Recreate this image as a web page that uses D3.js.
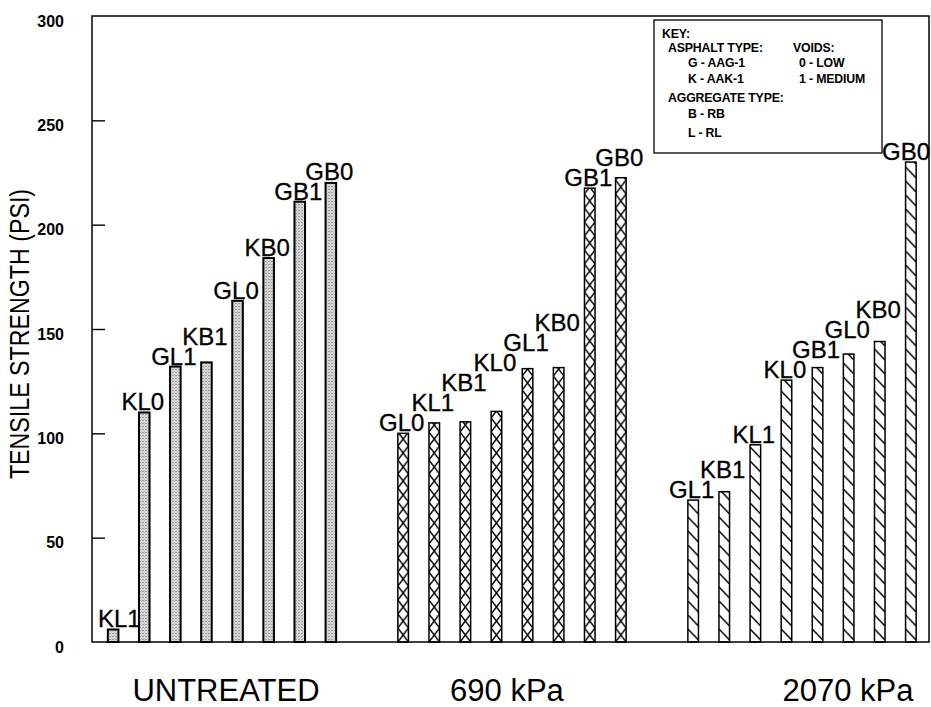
<!DOCTYPE html>
<html>
<head>
<meta charset="utf-8">
<script src="https://cdn.jsdelivr.net/npm/d3@7"></script>
<style>
  html, body { margin: 0; padding: 0; background: #fff; }
  svg { display: block; }
  text { font-family: "Liberation Sans", Arial, Helvetica, sans-serif; fill: #000; }
</style>
</head>
<body>
<svg id="chart" width="931" height="707"></svg>
<script>
// Treatment groups along the x axis
const groups = ["UNTREATED", "690 kPa", "2070 kPa"];

// Mix codes and tensile strengths (psi), sorted within each group
const untreatedMixes = ["KL1", "KL0", "GL1", "KB1", "GL0", "KB0", "GB1", "GB0"];
const untreatedValues = [6, 110, 132, 134, 163.5, 184, 211, 220];

const kpa690Mixes = ["GL0", "KL1", "KB1", "KL0", "GL1", "KB0", "GB1", "GB0"];
const kpa690Values = [100, 105, 105.5, 110.5, 131, 131.5, 217.5, 222.5];

const kpa2070Mixes = ["GL1", "KB1", "KL1", "KL0", "GB1", "GL0", "KB0", "GB0"];
const kpa2070Values = [68, 72, 94.5, 125.5, 131.5, 138, 144, 230];

const yTicks = [0, 50, 100, 150, 200, 250, 300];

// Key text: [column, row, indent level, text]
const keyLines = [
  [0, 0, 0, "KEY:"],
  [0, 1, 1, "ASPHALT TYPE:"],
  [0, 2, 2, "G - AAG-1"],
  [0, 3, 2, "K - AAK-1"],
  [0, 4, 1, "AGGREGATE TYPE:"],
  [0, 5, 2, "B - RB"],
  [0, 6, 2, "L - RL"],
  [1, 1, 0, "VOIDS:"],
  [1, 2, 1, "0 - LOW"],
  [1, 3, 1, "1 - MEDIUM"]
];

const seriesMixes = [untreatedMixes, kpa690Mixes, kpa2070Mixes];
const seriesValues = [untreatedValues, kpa690Values, kpa2070Values];
const table = groups.map((g, gi) => ({
  group: g,
  gi,
  bars: seriesMixes[gi].map((m, i) => ({ mix: m, value: seriesValues[gi][i], i, gi }))
}));

const svg = d3.select("#chart");
const plot = { left: 92, right: 929, top: 16, bottom: 642 };

const y = d3.scaleLinear().domain([0, 300]).range([plot.bottom, plot.top]);
const x0 = d3.scaleBand().domain(groups).range([97.5, 926.5]).paddingInner(0.1414);
const x1 = d3.scaleBand().domain(d3.range(8)).range([0, x0.bandwidth()])
  .paddingInner(0.66).paddingOuter(0.333);
const bw = x1.bandwidth();

// Fill patterns: stipple, chained X cross-hatch, single diagonal hatch
const defs = svg.append("defs");
const stip = defs.append("pattern").attr("id", "fill0")
  .attr("patternUnits", "userSpaceOnUse").attr("width", 3).attr("height", 3);
stip.append("rect").attr("width", 3).attr("height", 3).attr("fill", "#e2e2e2");
stip.append("rect").attr("width", 1).attr("height", 1).attr("fill", "#555");
stip.append("rect").attr("x", 1.5).attr("y", 1.5).attr("width", 1).attr("height", 1).attr("fill", "#888");

const cellH = 14;
const cross = defs.append("pattern").attr("id", "fill1")
  .attr("patternUnits", "userSpaceOnUse")
  .attr("x", x1(0)).attr("y", plot.bottom)
  .attr("width", x1.step()).attr("height", cellH);
cross.append("path")
  .attr("d", `M0,0L${bw},${cellH}M${bw},0L0,${cellH}`)
  .attr("stroke", "#000").attr("stroke-width", 1.4).attr("fill", "none");

const hatch = defs.append("pattern").attr("id", "fill2")
  .attr("patternUnits", "userSpaceOnUse")
  .attr("x", x1(0)).attr("y", plot.bottom)
  .attr("width", x1.step()).attr("height", cellH);
hatch.append("path")
  .attr("d", `M0,1L${bw},${cellH - 2}`)
  .attr("stroke", "#000").attr("stroke-width", 1.5).attr("fill", "none");

// Frame
svg.append("rect")
  .attr("x", plot.left).attr("y", plot.top)
  .attr("width", plot.right - plot.left).attr("height", plot.bottom - plot.top)
  .attr("fill", "none").attr("stroke", "#000").attr("stroke-width", 1.5);

// Y axis with inward ticks
const yAxis = svg.append("g")
  .attr("transform", `translate(${plot.left},0)`)
  .call(d3.axisRight(y).tickValues(yTicks.filter(v => v > 0 && v < 300)).tickSize(13).tickFormat(""));
yAxis.select(".domain").remove();
yAxis.selectAll("line").attr("stroke", "#000").attr("stroke-width", 1.4);

svg.append("g").selectAll("text").data(yTicks).join("text")
  .attr("x", 64).attr("y", d => y(d) + 5)
  .attr("text-anchor", "end").attr("dominant-baseline", "central")
  .attr("font-size", 16).attr("font-weight", "bold")
  .text(d => d);

svg.append("text")
  .attr("transform", `translate(19,${(plot.top + plot.bottom) / 2 + 5}) rotate(-90) scale(0.86,1)`)
  .attr("text-anchor", "middle").attr("dominant-baseline", "central")
  .attr("font-size", 27)
  .text("TENSILE STRENGTH (PSI)");

// Key box
const keyColumnX = [8, 139];
const keyIndent = [[0, 6, 26], [0, 6]];
const keyRowY = [18, 32, 47, 63, 82, 98, 117];
const key = svg.append("g").attr("transform", "translate(654,20)");
key.append("rect").attr("width", 228).attr("height", 133)
  .attr("fill", "#fff").attr("stroke", "#000").attr("stroke-width", 1.3);
key.selectAll("text").data(keyLines).join("text")
  .attr("x", d => keyColumnX[d[0]] + keyIndent[d[0]][d[2]])
  .attr("y", d => keyRowY[d[1]])
  .attr("font-size", 12.3).attr("font-weight", "bold")
  .attr("letter-spacing", -0.15)
  .text(d => d[3]);

// Bars
const gg = svg.append("g").selectAll("g.grp").data(table).join("g")
  .attr("class", "grp")
  .attr("transform", d => `translate(${x0(d.group)},0)`);

gg.selectAll("rect").data(d => d.bars).join("rect")
  .attr("x", d => x1(d.i))
  .attr("y", d => y(d.value))
  .attr("width", bw)
  .attr("height", d => y(0) - y(d.value))
  .attr("fill", d => `url(#fill${d.gi})`)
  .attr("stroke", "#000")
  .attr("stroke-width", d => d.gi === 0 ? 2 : 1.5);

// Mix labels over each bar; a label that would collide with its left
// neighbour is stepped up above it, and labels are kept inside the frame
const labelStep = 20;
gg.each(function (d) {
  let prevBase = Infinity;
  const gx = x0(d.group);
  d3.select(this).selectAll("text").data(d.bars).join("text")
    .attr("font-size", 24)
    .attr("text-anchor", "middle")
    .attr("stroke", "#000").attr("stroke-width", 0.3)
    .text(b => b.mix)
    .each(function (b) {
      const w = this.getComputedTextLength();
      let cx = x1(b.i) + bw / 2 - 1.5;
      const absL = gx + cx - w / 2, absR = gx + cx + w / 2;
      if (absL < plot.left + 6) cx += plot.left + 6 - absL;
      if (absR > plot.right + 1) cx -= absR - plot.right - 1;
      const base = Math.min(y(b.value) - 2, prevBase - labelStep);
      prevBase = base;
      d3.select(this).attr("x", cx).attr("y", base);
    });
});

// Group labels under the axis
const groupLabelNudge = [4, -5, 46];
svg.append("g").selectAll("text").data(groups).join("text")
  .attr("x", (d, i) => x0(d) + x0.bandwidth() / 2 + groupLabelNudge[i])
  .attr("y", 701)
  .attr("text-anchor", "middle")
  .attr("font-size", 31)
  .text(d => d);
</script>
</body>
</html>
